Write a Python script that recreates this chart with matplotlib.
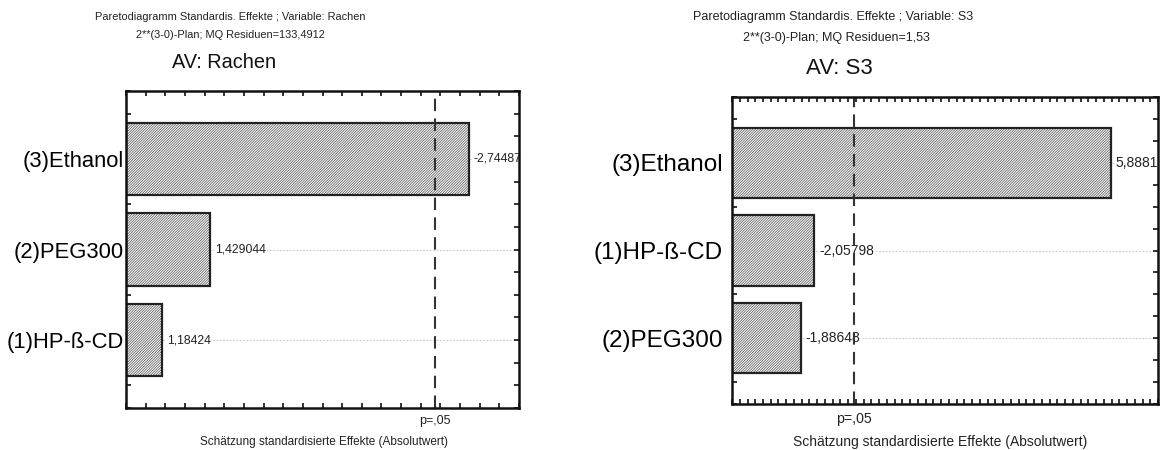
import matplotlib
matplotlib.use('Agg')
import matplotlib.pyplot as plt
import numpy as np

plt.rcParams['font.family'] = ['Liberation Sans', 'DejaVu Sans']
plt.rcParams['hatch.linewidth'] = 0.5

# Left panel: AV Rachen
rachen_labels = ['(1)HP-ß-CD', '(2)PEG300', '(3)Ethanol']
rachen_effects = [1.18424, 1.429044, -2.74487]
rachen_value_text = ['1,18424', '1,429044', '-2,74487']

# Right panel: AV S3
s3_labels = ['(2)PEG300', '(1)HP-ß-CD', '(3)Ethanol']
s3_effects = [-1.88648, -2.05798, 5.8881]
s3_value_text = ['-1,88648', '-2,05798', '5,8881']

p_crit = 2.5706  # t(0.975; df=5)

fig = plt.figure(figsize=(11.66, 4.5), dpi=100)


def pareto(ax, labels, effects, texts, xmax, lab_fs, lab_pad, val_fs, p_fs, p_off):
    y = np.arange(len(labels))
    vals = np.abs(effects)
    for yi in y:
        ax.axhline(yi, color='#c8c8c8', lw=0.8, ls=(0, (1.5, 1.5)), zorder=0)
    ax.barh(y, vals - 1.0, left=1.0, height=0.8, color='white',
            edgecolor='#4a4a4a', hatch='/' * 13, lw=0, zorder=2)
    ax.barh(y, vals - 1.0, left=1.0, height=0.8, fill=False,
            edgecolor='#222222', lw=1.6, zorder=3)
    span = xmax - 1.0
    for yi, v, t in zip(y, vals, texts):
        ax.text(v + span * 0.012, yi, t, va='center', ha='left', fontsize=val_fs,
                color='#222222', zorder=4, clip_on=False,
                bbox=dict(boxstyle='square,pad=0.05', fc='white', ec='none'))
    ax.axvline(p_crit, color='#333333', lw=1.5, ls=(0, (6, 3.5)), zorder=5)
    ax.set_xlim(1.0, xmax)
    ax.set_ylim(-0.75, 2.75)
    ax.set_xticks(np.arange(1.0, xmax + 1e-9, 0.1))
    ax.set_xticklabels([])
    ax.set_yticks(np.arange(-0.75, 2.76, 0.25), minor=True)
    ax.set_yticks(y)
    ax.set_yticklabels(labels, fontsize=lab_fs)
    ax.tick_params(axis='both', which='both', direction='in', length=3.5,
                   width=1.2, top=True, right=True, color='#111111')
    ax.tick_params(axis='y', which='major', pad=lab_pad)
    for s in ax.spines.values():
        s.set_linewidth(1.8)
        s.set_color('#111111')
        s.set_zorder(6)
    ax.text(p_crit, -p_off, 'p=,05', transform=ax.get_xaxis_transform(),
            ha='center', va='center', fontsize=p_fs, color='#222222')


ax1 = fig.add_axes([0.1081, 0.0933, 0.337, 0.7044])
pareto(ax1, rachen_labels, rachen_effects, rachen_value_text, 3.0, 15.8, 1.5, 8.8, 9, 13 / 317)

ax2 = fig.add_axes([0.6278, 0.1022, 0.3654, 0.682])
pareto(ax2, s3_labels, s3_effects, s3_value_text, 6.5, 17.5, 6.5, 10, 10.2, 15 / 307)

# headers
fig.text(230 / 1166, 1 - 17 / 450, 'Paretodiagramm Standardis. Effekte ; Variable: Rachen',
         ha='center', va='center', fontsize=7.9, color='#222222')
fig.text(230 / 1166, 1 - 35 / 450, '2**(3-0)-Plan; MQ Residuen=133,4912',
         ha='center', va='center', fontsize=7.9, color='#222222')
fig.text(224 / 1166, 1 - 62 / 450, 'AV: Rachen', ha='center', va='center',
         fontsize=14.3, color='#111111')
fig.text(324 / 1166, 1 - 442 / 450, 'Schätzung standardisierte Effekte (Absolutwert)',
         ha='center', va='center', fontsize=8.5, color='#222222')

fig.text(833 / 1166, 1 - 17 / 450, 'Paretodiagramm Standardis. Effekte ; Variable: S3',
         ha='center', va='center', fontsize=9, color='#222222')
fig.text(836 / 1166, 1 - 38 / 450, '2**(3-0)-Plan; MQ Residuen=1,53',
         ha='center', va='center', fontsize=9, color='#222222')
fig.text(839 / 1166, 1 - 68 / 450, 'AV: S3', ha='center', va='center',
         fontsize=16, color='#111111')
fig.text(940 / 1166, 1 - 442 / 450, 'Schätzung standardisierte Effekte (Absolutwert)',
         ha='center', va='center', fontsize=10, color='#222222')

fig.savefig('out.png', dpi=100)
